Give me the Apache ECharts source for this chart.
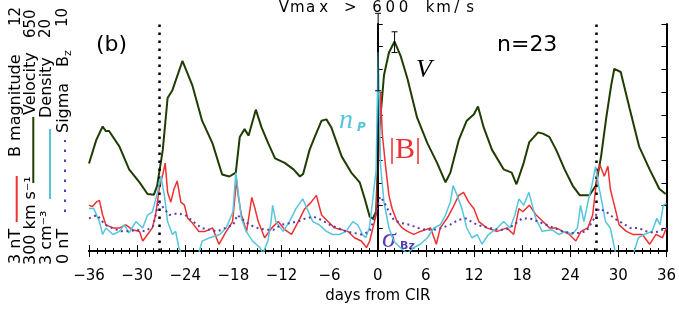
<!DOCTYPE html>
<html lang="en">
<head>
  <meta charset="UTF-8">
  <title>Vmax > 600 km/s, days from CIR</title>
  <style>
    html, body { margin: 0; padding: 0; background: #fff; }
    #chart { width: 679px; height: 309px; }
  </style>
  <script src="https://cdn.jsdelivr.net/npm/echarts@6/dist/echarts.min.js"></script>
</head>
<body>
  <div id="chart"></div>
  <script>
    // superposed epoch averages, [day from CIR, value]
    var velocity = [ // km/s
      [-36, 435], [-35.1, 471], [-34.3, 492], [-33.9, 485], [-33.5, 485], [-32.2, 461], [-31, 426], [-29.7, 406],
      [-28.7, 388], [-27.9, 387], [-27.5, 401], [-26.8, 456], [-26.2, 536], [-25.6, 548], [-24.35, 593], [-23.1, 555],
      [-21.9, 501], [-20.6, 466], [-19.4, 418], [-18.5, 415], [-17.7, 421], [-17.2, 476], [-16.6, 488], [-16.1, 478],
      [-15.2, 518], [-14.5, 491], [-13.65, 466], [-12.8, 443], [-11.6, 436], [-10.5, 426], [-9.7, 415], [-9.3, 419],
      [-8.5, 456], [-7.85, 476], [-7, 501], [-6.4, 503], [-5.8, 491], [-4.5, 446], [-3.3, 421], [-2.25, 406],
      [-1.6, 380], [-1, 353], [-0.6, 350], [-0.2, 361], [0.16, 481], [0.78, 571], [1.4, 606], [2.1, 623],
      [2.85, 601], [3.7, 566], [4.9, 506], [6.2, 466], [7.4, 436], [8.45, 406], [9.06, 421], [10.1, 471],
      [11.1, 501], [12, 511], [12.5, 523], [13.2, 491], [14.25, 456], [15.7, 426], [16.7, 421], [17.3, 403],
      [18.2, 436], [18.9, 468], [20, 483], [20.6, 481], [21.4, 476], [22.25, 456], [23.3, 426], [24.3, 401],
      [25.2, 386], [26.4, 386], [27.2, 401], [27.85, 446], [28.5, 506], [29.1, 555], [29.5, 581], [30.3, 576],
      [31.4, 520], [32.6, 461], [33.9, 426], [35.1, 396], [35.9, 388]
    ];
    var bMag = [ // nT
      [-36, 4.82], [-35.6, 4.76], [-35.1, 4.94], [-34.7, 5.01], [-34.3, 4.43], [-33.9, 4.04], [-33, 3.92], [-32.2, 3.92],
      [-31.4, 4.04], [-30.6, 3.85], [-29.7, 3.78], [-29.3, 3.4], [-28.7, 3.66], [-28.1, 3.92], [-27.7, 4.43], [-27.25, 5.46],
      [-26.75, 6.11], [-26.5, 6.49], [-26.2, 5.33], [-25.8, 4.94], [-25.4, 5.46], [-25, 5.78], [-24.55, 4.94], [-24.1, 4.82],
      [-23.7, 4.3], [-23.1, 4.11], [-22.3, 3.78], [-21.5, 3.78], [-20.6, 3.92], [-19.8, 3.27], [-19, 3.72], [-18.1, 4.17],
      [-17.6, 5.84], [-17.4, 5.21], [-17, 4.43], [-16.35, 3.78], [-15.7, 5.13], [-15.3, 4.68], [-14.9, 4.17], [-14.1, 3.53],
      [-13.2, 3.92], [-12.4, 4.17], [-11.6, 3.85], [-10.75, 3.66], [-9.9, 4.17], [-9.1, 4.68], [-8.3, 4.94], [-7.65, 5.21],
      [-7, 4.43], [-6.2, 4.17], [-5.4, 3.92], [-4.5, 3.85], [-3.7, 3.78], [-2.9, 3.53], [-2.05, 3.4], [-1.4, 3.14],
      [-1, 3.4], [-0.6, 3.92], [-0.2, 4.43], [0.1, 6.6], [0.35, 9.3], [0.57, 7.64], [0.98, 6.36], [1.4, 5.21],
      [1.8, 4.68], [2.4, 4.17], [3.05, 3.92], [3.7, 3.78], [4.5, 3.66], [5.3, 3.78], [6.6, 3.92], [7.3, 3.27],
      [7.8, 3.92], [8.65, 4.3], [9.3, 4.68], [10.1, 5.21], [10.7, 5.33], [11.35, 4.94], [12, 4.68], [12.6, 4.17],
      [13.6, 3.92], [14.9, 3.78], [16.1, 3.92], [16.95, 3.66], [17.6, 4.68], [18.1, 4.56], [18.9, 4.82], [19.75, 4.43],
      [20.6, 4.17], [21.4, 3.92], [22.25, 3.92], [23.1, 3.78], [23.9, 3.66], [24.7, 3.4], [25.35, 3.78], [26.2, 3.92],
      [26.8, 4.43], [27.4, 6.11], [27.7, 6.42], [28.25, 5.97], [28.7, 6.36], [29, 5.46], [29.5, 4.82], [30.1, 4.04],
      [31, 3.78], [31.8, 3.66], [33, 3.66], [33.9, 3.27], [34.7, 3.66], [35.5, 3.53], [36, 3.92]
    ];
    var density = [ // cm^-3
      [-36, 6.18], [-35.4, 6.18], [-34.7, 5.21], [-34.3, 4.24], [-33.9, 4.73], [-33, 4.24], [-32.2, 4.48], [-31.6, 4.97],
      [-31, 4.36], [-30.15, 5.21], [-29.3, 4.73], [-28.7, 5.7], [-28.1, 5.94], [-27.45, 7.4], [-27.05, 8.61], [-26.6, 7.17],
      [-26.2, 5.21], [-25.6, 4.24], [-25.2, 4.48], [-24.8, 3.27], [-24.3, 2.49], [-23.5, 2.15], [-22.4, 2.66], [-21.9, 3.75],
      [-20.95, 4.0], [-19.7, 4.24], [-18.9, 4.73], [-18.05, 5.94], [-17.7, 8.87], [-17.4, 7.42], [-17, 5.45], [-16.4, 4.48],
      [-15.6, 3.75], [-14.7, 3.27], [-14.3, 2.83], [-13.7, 3.75], [-13.3, 5.21], [-13.1, 6.43], [-12.7, 5.21], [-11.8, 4.48],
      [-11, 5.21], [-10.2, 6.18], [-9.35, 6.91], [-9, 6.43], [-8.1, 5.21], [-7.3, 4.97], [-6.4, 4.48], [-5.6, 4.24],
      [-4.8, 4.24], [-3.95, 4.48], [-3.1, 5.21], [-2.5, 4.97], [-1.9, 4.24], [-1.5, 4.0], [-1.05, 4.73], [-0.65, 6.67],
      [-0.2, 9.1], [0.05, 17.88], [0.36, 9.34], [0.78, 6.67], [1.4, 4.73], [2, 3.75], [2.8, 3.27], [3.7, 2.83],
      [4.5, 3.27], [5.3, 3.51], [6.2, 4.0], [7, 4.73], [7.8, 4.97], [8.45, 5.7], [9.06, 6.67], [9.4, 7.9],
      [9.9, 7.17], [10.5, 6.18], [11.1, 4.73], [11.75, 4.0], [12.4, 4.24], [13, 3.51], [13.8, 4.24], [14.9, 4.73],
      [15.7, 5.21], [16.5, 4.73], [17.1, 5.7], [17.6, 6.91], [18.2, 6.43], [18.85, 7.4], [19.7, 5.45], [20.5, 4.48],
      [21.7, 4.6], [22.6, 4.24], [23.4, 4.48], [24.25, 4.24], [24.9, 4.73], [25.3, 6.43], [25.7, 5.21], [26.3, 6.91],
      [26.7, 7.9], [27.15, 9.34], [27.55, 7.9], [27.95, 6.67], [28.4, 5.21], [29, 4.73], [29.6, 3.0], [30.5, 2.32],
      [31.9, 2.83], [32.5, 4.0], [33.2, 4.24], [34.2, 4.48], [34.8, 5.45], [35.2, 4.97], [35.6, 6.43], [36, 6.57]
    ];
    var sigmaBz = [ // nT
      [-36, 1.44], [-35, 1.59], [-34, 1.16], [-33, 1.0], [-32, 0.87], [-31, 0.87], [-30, 0.94], [-29, 0.87],
      [-28, 1.1], [-27.3, 2.2], [-26.8, 1.95], [-26, 1.59], [-25, 1.66], [-24, 1.59], [-23, 1.3], [-22, 1.02],
      [-21, 0.94], [-20, 0.87], [-19, 1.02], [-18, 1.16], [-17.5, 1.59], [-17, 1.44], [-16, 1.16], [-15, 1.02],
      [-14, 0.94], [-13, 0.94], [-12, 1.16], [-11, 1.23], [-10, 1.3], [-9, 1.44], [-8, 1.52], [-7, 1.37],
      [-6, 1.16], [-5, 1.02], [-4, 0.87], [-3, 0.8], [-2, 0.73], [-1, 0.87], [-0.3, 1.59], [0.3, 2.4],
      [0.8, 2.16], [1.4, 1.73], [2, 1.37], [3, 1.23], [4, 1.16], [5, 1.02], [6, 0.94], [7, 0.94],
      [8, 1.02], [9, 1.16], [10, 1.37], [11, 1.44], [12, 1.23], [13, 1.09], [14, 1.02], [15, 0.94],
      [16, 0.94], [17, 1.16], [18, 1.44], [19, 1.44], [20, 1.3], [21, 1.16], [22, 1.02], [23, 0.87],
      [24, 0.8], [25, 0.8], [26, 0.87], [27, 1.44], [27.6, 1.87], [28.5, 1.73], [29.5, 1.44], [30.5, 1.23],
      [31.5, 1.02], [32.5, 1.02], [33.5, 0.87], [34.5, 0.8], [35.5, 0.94], [36, 1.02]
    ];
    // [day, low, high]
    var velocityErr = [[2.1, 606, 638]];
    var densityErr = [[0.05, 15.0, 20.8]];
    var cirLines = [-27.27, 27.27];

    var titleText = 'Vmax > 600 km/s';

    var col = { v: '#1f3c02', b: '#ee3030', n: '#55c6dc', s: '#5a3cb0' };

    var myChart = echarts.init(document.getElementById('chart'));

    function errBar(params, api) {
      var lo = api.coord([api.value(0), api.value(1)]);
      var hi = api.coord([api.value(0), api.value(2)]);
      var w = 3, st = { stroke: '#000', lineWidth: 1 };
      return {
        type: 'group', children: [
          { type: 'line', shape: { x1: lo[0], y1: lo[1], x2: hi[0], y2: hi[1] }, style: st },
          { type: 'line', shape: { x1: lo[0] - w, y1: lo[1], x2: lo[0] + w, y2: lo[1] }, style: st },
          { type: 'line', shape: { x1: hi[0] - w, y1: hi[1], x2: hi[0] + w, y2: hi[1] }, style: st }
        ]
      };
    }

    // rotated axis caption text (reads bottom to top)
    function vtext(x, y, text, size, color) {
      return {
        type: 'text', x: x, y: y, rotation: Math.PI / 2,
        style: { text: text, font: size + 'px "DejaVu Sans"', fill: color || '#000', textAlign: 'left', textVerticalAlign: 'middle' }
      };
    }
    function vline(x, y1, y2, color, dash) {
      return {
        type: 'line', shape: { x1: x, y1: y1, x2: x, y2: y2 },
        style: { stroke: color, lineWidth: 2, lineDash: dash || null }
      };
    }

    var spaced = titleText.split('').map(function (c) { return '{c|' + c + '}'; }).join('');

    var frameAxis = {
      axisLine: { show: true, lineStyle: { color: '#000', width: 2 } },
      axisTick: { show: true, inside: true, length: 5, lineStyle: { color: '#000', width: 1 } },
      axisLabel: { show: false },
      splitLine: { show: false }
    };
    var dayTicks = {
      axisLine: { lineStyle: { color: '#000', width: 2 } },
      axisTick: { inside: false, length: 6, lineStyle: { color: '#000' } },
      minorTick: { show: true, splitNumber: 6, length: 3, lineStyle: { color: '#000' } },
      splitLine: { show: false }
    };

    var option = {
      animation: false,
      grid: { left: 89, right: 11, top: 24, bottom: 52 },
      xAxis: [
        Object.assign({
          type: 'value', min: -36, max: 36, interval: 6, position: 'bottom',
          axisLabel: {
            margin: 18, color: '#000', fontSize: 15, fontFamily: 'DejaVu Sans',
            formatter: function (v) { return v < 0 ? '\u2212' + Math.abs(v) : String(v); }
          },
          name: 'days from CIR', nameLocation: 'middle', nameGap: 35,
          nameTextStyle: { color: '#000', fontSize: 15, fontFamily: 'DejaVu Sans' }
        }, dayTicks),
        Object.assign({
          type: 'value', min: -36, max: 36, interval: 6, position: 'top', axisLabel: { show: false }
        }, dayTicks)
      ],
      yAxis: [
        Object.assign({ type: 'value', min: 0, max: 10, interval: 1, position: 'left' }, frameAxis),
        { type: 'value', min: 3, max: 12, show: false },
        { type: 'value', min: 300, max: 650, show: false },
        { type: 'value', min: 3, max: 20, show: false },
        Object.assign({ type: 'value', min: 0, max: 10, interval: 1, position: 'right' }, frameAxis)
      ],
      series: [
        {
          name: 'Velocity', type: 'line', yAxisIndex: 2, data: velocity, symbol: 'none',
          lineStyle: { color: col.v, width: 2 }, z: 3,
          markLine: {
            silent: true, symbol: ['none', 'none'], label: { show: false },
            data: [
              { xAxis: cirLines[0], lineStyle: { color: '#000', width: 2.5, type: [2.5, 5.5] } },
              { xAxis: cirLines[1], lineStyle: { color: '#000', width: 2.5, type: [2.5, 5.5] } },
              { xAxis: 0, lineStyle: { color: '#000', width: 1.5, type: 'solid' } }
            ]
          }
        },
        { name: 'B magnitude', type: 'line', yAxisIndex: 1, data: bMag, symbol: 'none', lineStyle: { color: col.b, width: 1.5 }, z: 4 },
        { name: 'Density', type: 'line', yAxisIndex: 3, data: density, symbol: 'none', lineStyle: { color: col.n, width: 1.5 }, z: 5 },
        { name: 'Sigma Bz', type: 'line', yAxisIndex: 0, data: sigmaBz, symbol: 'none', lineStyle: { color: col.s, width: 2, type: [2, 3.5] }, z: 6 },
        { type: 'custom', yAxisIndex: 2, data: velocityErr, renderItem: errBar, clip: false, z: 7 },
        { type: 'custom', yAxisIndex: 3, data: densityErr, renderItem: errBar, clip: false, z: 7 }
      ],
      graphic: [
        {
          type: 'text', x: 377, y: 16,
          style: {
            text: spaced, textAlign: 'center', textVerticalAlign: 'bottom', fill: '#000',
            rich: { c: { width: 13.3, align: 'center', fontSize: 15, fontFamily: 'DejaVu Sans', color: '#000' } }
          }
        },
        { type: 'text', x: 96, y: 45, style: { text: '(b)', font: '22px "DejaVu Sans"', fill: '#000', textVerticalAlign: 'middle' } },
        { type: 'text', x: 497, y: 45, style: { text: 'n=23', font: '22px "DejaVu Sans"', fill: '#000', textVerticalAlign: 'middle' } },
        { type: 'text', x: 416, y: 70, style: { text: 'V', font: 'italic 26px "Liberation Serif"', fill: '#000', textVerticalAlign: 'middle' } },
        { type: 'text', x: 339, y: 121, style: { text: 'n', font: 'italic 28px "Liberation Serif"', fill: col.n, textVerticalAlign: 'middle' } },
        { type: 'text', x: 357, y: 128, style: { text: 'P', font: 'italic bold 12px "DejaVu Sans"', fill: col.n, textVerticalAlign: 'middle' } },
        { type: 'text', x: 389, y: 150, style: { text: '|B|', font: '30px "Liberation Serif"', fill: col.b, textVerticalAlign: 'middle' } },
        { type: 'text', x: 382, y: 240, style: { text: '\u03c3', font: 'italic 28px "Liberation Serif"', fill: col.s, textVerticalAlign: 'middle' } },
        { type: 'text', x: 400, y: 246, style: { text: 'Bz', font: 'bold 11px "DejaVu Sans"', fill: col.s, textVerticalAlign: 'middle' } },

        vtext(16, 264, '3 nT', 16), vline(16.7, 222, 176, col.b), vtext(16, 157, 'B magnitude', 16), vtext(16, 26, '12', 15),
        vtext(31, 265, '300 km s\u207b\u00b9', 16), vline(33.3, 183, 117, col.v), vtext(31, 115, 'Velocity', 16), vtext(31, 38, '650', 15),
        vtext(46.5, 265, '3 cm\u207b\u00b3', 16), vline(50, 199, 129, col.n), vtext(46.5, 118, 'Density', 16), vtext(46.5, 38, '20', 15),
        vtext(63.5, 264, '0 nT', 16), vline(65, 212, 140, col.s, [2.5, 7.5]), vtext(63.5, 133, 'Sigma', 16), vtext(63.5, 67, 'B', 16),
        vtext(68, 56, 'z', 11), vtext(63.5, 27, '10', 15)
      ]
    };
    myChart.setOption(option);
  </script>
</body>
</html>
